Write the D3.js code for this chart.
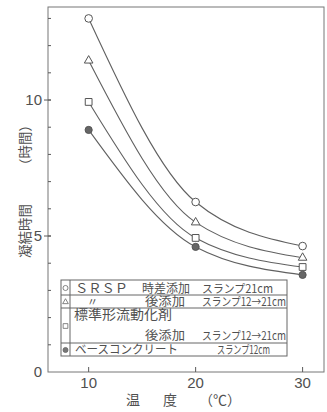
<!DOCTYPE html>
<html lang="ja">
<head>
<meta charset="UTF-8">
<title>凝結時間と温度</title>
<script src="https://d3js.org/d3.v7.min.js"></script>
<style>
  body { margin: 0; background: #fff; }
  svg { display: block; }
  text { fill: #505050; font-family: "Noto Sans CJK JP", "Noto Sans", sans-serif; }
  .num { font-family: "Liberation Sans", "DejaVu Sans", sans-serif; }
</style>
</head>
<body>
<div id="chart"></div>
<script>
// temperature (°C) and setting time (hours)
const temps = [10, 20, 30];
const srspJisa = [13.0, 6.25, 4.63];   // SRSP 時差添加
const srspAto = [11.45, 5.5, 4.2];     // 〃 後添加
const hyojunAto = [9.93, 4.93, 3.86];  // 標準形流動化剤 後添加
const baseCon = [8.9, 4.6, 3.57];      // ベースコンクリート
const xTicks = [10, 20, 30];
const yLabels = [0, 5, 10];
const yMinor = d3.range(1, 14);

const width = 327, height = 412;
const ink = "#5a5a5a";

const svg = d3.select("#chart").append("svg")
  .attr("width", width).attr("height", height);

// 10 -> 87px, 30 -> 303px
const x = d3.scaleLinear().domain([6.2, 32.0]).range([48, 324]);
const y = d3.scaleLinear().domain([0, 13.42]).range([372, 7]);

// frame
svg.append("rect")
  .attr("x", x.range()[0]).attr("y", y.range()[1])
  .attr("width", x.range()[1] - x.range()[0])
  .attr("height", y.range()[0] - y.range()[1])
  .attr("fill", "none").attr("stroke", "#777").attr("stroke-width", 1);

// y ticks: minor inward, labelled ones outward too
svg.append("g").selectAll("line").data(yMinor).join("line")
  .attr("x1", x.range()[0]).attr("x2", x.range()[0] + 3)
  .attr("y1", d => y(d)).attr("y2", d => y(d))
  .attr("stroke", ink);
svg.append("g").selectAll("line").data(yLabels.filter(d => d > 0)).join("line")
  .attr("x1", x.range()[0] - 4).attr("x2", x.range()[0] + 3)
  .attr("y1", d => y(d)).attr("y2", d => y(d))
  .attr("stroke", ink);
svg.append("g").selectAll("text").data(yLabels).join("text")
  .attr("class", "num")
  .attr("x", x.range()[0] - 6).attr("y", d => y(d))
  .attr("dy", "0.36em").attr("text-anchor", "end")
  .style("font-size", "15px")
  .text(d => d);

// x ticks
svg.append("g").selectAll("line").data(xTicks).join("line")
  .attr("x1", d => x(d)).attr("x2", d => x(d))
  .attr("y1", y(0)).attr("y2", y(0) - 5)
  .attr("stroke", ink);
svg.append("g").selectAll("text").data(xTicks).join("text")
  .attr("class", "num")
  .attr("x", d => x(d)).attr("y", y(0) + 16)
  .attr("text-anchor", "middle")
  .style("font-size", "15px")
  .text(d => d);

// axis titles (vertical, reading bottom to top)
const yTitle = [["凝結時間", 231], ["（時間）", 145]];
svg.append("g").selectAll("text").data(yTitle).join("text")
  .attr("transform", d => `translate(30,${d[1]}) rotate(-90)`)
  .attr("text-anchor", "middle")
  .attr("textLength", 54).attr("lengthAdjust", "spacingAndGlyphs")
  .style("font-size", "13.5px")
  .text(d => d[0]);
const xTitle = [["温", 133], ["度", 170], ["（℃）", 220]];
svg.append("g").selectAll("text").data(xTitle).join("text")
  .attr("x", d => d[1]).attr("y", 405)
  .attr("text-anchor", "middle")
  .style("font-size", "14px")
  .text(d => d[0]);

// curves and markers
const series = [
  { vals: srspJisa, sym: d3.symbolCircle, size: 46, fill: "#fff" },
  { vals: srspAto, sym: d3.symbolTriangle, size: 32, fill: "#fff" },
  { vals: hyojunAto, sym: d3.symbolSquare, size: 46, fill: "#fff" },
  { vals: baseCon, sym: d3.symbolCircle, size: 40, fill: "#666" }
];

const line = d3.line()
  .x((d, i) => x(temps[i]))
  .y(d => y(d))
  .curve(d3.curveMonotoneX);

svg.append("g").selectAll("path").data(series).join("path")
  .attr("d", s => line(s.vals))
  .attr("fill", "none").attr("stroke", "#606060").attr("stroke-width", 1.1);

series.forEach(s => {
  svg.append("g").selectAll("path").data(s.vals).join("path")
    .attr("transform", (d, i) => `translate(${x(temps[i])},${y(d)})`)
    .attr("d", d3.symbol().type(s.sym).size(s.size))
    .attr("fill", s.fill).attr("stroke", "#555").attr("stroke-width", 1);
});

// legend table
const lg = svg.append("g");
const rowLines = [280, 295, 308, 343, 356];
lg.append("rect")
  .attr("x", 61).attr("y", rowLines[0])
  .attr("width", 287 - 61).attr("height", rowLines[4] - rowLines[0])
  .attr("fill", "#fff").attr("stroke", "#666");
lg.selectAll("line.row").data(rowLines.slice(1, 4)).join("line")
  .attr("x1", 61).attr("x2", 287)
  .attr("y1", d => d).attr("y2", d => d)
  .attr("stroke", "#666");
lg.append("line")
  .attr("x1", 70).attr("x2", 70)
  .attr("y1", rowLines[0]).attr("y2", rowLines[4])
  .attr("stroke", "#666");

const legendSym = [
  { sym: d3.symbolCircle, size: 20, fill: "#fff", y: 288 },
  { sym: d3.symbolTriangle, size: 14, fill: "#fff", y: 302 },
  { sym: d3.symbolSquare, size: 22, fill: "#fff", y: 326 },
  { sym: d3.symbolCircle, size: 20, fill: "#777", y: 350 }
];
lg.selectAll("path").data(legendSym).join("path")
  .attr("transform", d => `translate(65.5,${d.y})`)
  .attr("d", d => d3.symbol().type(d.sym).size(d.size)())
  .attr("fill", d => d.fill).attr("stroke", "#666").attr("stroke-width", 0.8);

// [text, x, baseline y, font size, fitted width]
const legendText = [
  ["ＳＲＳＰ", 75, 293, 13, 53],
  ["時差添加", 142, 293, 12, 48],
  ["スランプ21cm", 202, 293, 11.5, 71],
  ["〃", 87, 306, 11, 0],
  ["後添加", 145, 306, 12, 40],
  ["スランプ12→21cm", 202, 306, 11.5, 84],
  ["標準形流動化剤", 74, 319, 13, 98],
  ["後添加", 145, 340, 12, 40],
  ["スランプ12→21cm", 202, 340, 11.5, 84],
  ["ベースコンクリート", 75, 354, 12, 103],
  ["スランプ12cm", 217, 354, 11.5, 53]
];
lg.selectAll("text").data(legendText).join("text")
  .attr("x", d => d[1]).attr("y", d => d[2])
  .attr("textLength", d => d[4] || null)
  .attr("lengthAdjust", d => d[4] ? "spacingAndGlyphs" : null)
  .style("font-size", d => d[3] + "px")
  .text(d => d[0]);
</script>
</body>
</html>
